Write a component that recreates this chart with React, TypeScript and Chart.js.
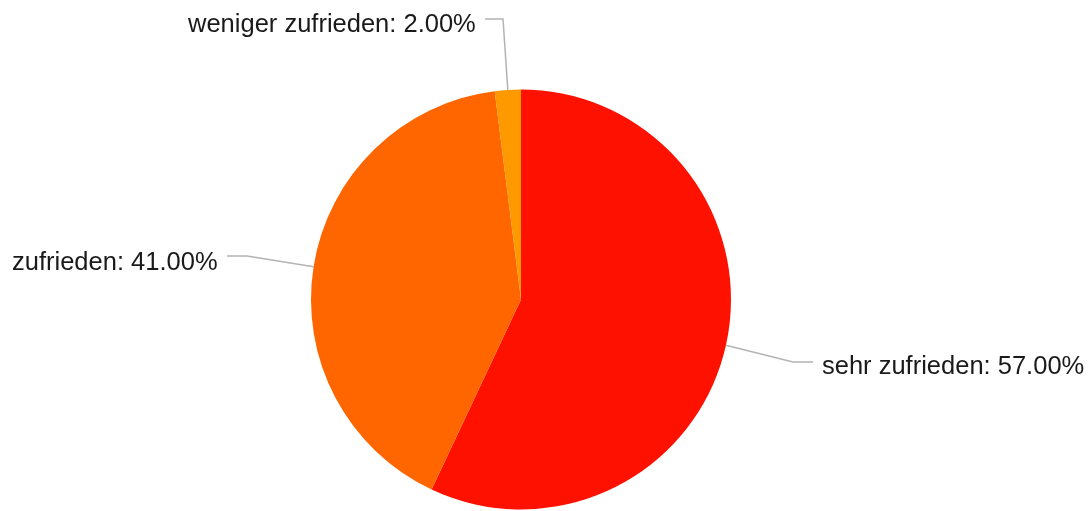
import React, { useEffect, useRef } from "react";
import { Chart, registerables } from "chart.js";

Chart.register(...registerables);

const categories: string[] = ["sehr zufrieden", "zufrieden", "weniger zufrieden"];
const values: number[] = [57, 41, 2];
const colors: string[] = ["#FF1100", "#FF6600", "#FF9900"];

// layout for the outside labels: text start x, baseline y, elbow point, line end point
const labelLayout = [
  { tx: 822, ty: 374, elbow: [793, 362], end: [813, 362] },
  { tx: 12, ty: 270, elbow: [247, 256], end: [227, 256] },
  { tx: 188, ty: 32, elbow: [503, 19], end: [485, 19] },
];

const labelPlugin = {
  id: "outLabels",
  afterDraw(chart: any) {
    const ctx = chart.ctx;
    const meta = chart.getDatasetMeta(0);
    ctx.save();
    meta.data.forEach((arc: any, i: number) => {
      const mid = (arc.startAngle + arc.endAngle) / 2;
      const ax = arc.x + Math.cos(mid) * arc.outerRadius;
      const ay = arc.y + Math.sin(mid) * arc.outerRadius;
      const L = labelLayout[i];
      ctx.strokeStyle = "#b3b3b3";
      ctx.lineWidth = 1.5;
      ctx.beginPath();
      ctx.moveTo(ax, ay);
      ctx.lineTo(L.elbow[0], L.elbow[1]);
      ctx.lineTo(L.end[0], L.end[1]);
      ctx.stroke();
      ctx.fillStyle = "#1a1a1a";
      ctx.font = '25.5px "Liberation Sans", Arial, sans-serif';
      ctx.textBaseline = "alphabetic";
      ctx.textAlign = "left";
      ctx.fillText(`${categories[i]}: ${values[i].toFixed(2)}%`, L.tx, L.ty);
    });
    ctx.restore();
  },
};

export default function App() {
  const ref = useRef<HTMLCanvasElement | null>(null);
  useEffect(() => {
    document.body.style.margin = "0";
    const chart = new Chart(ref.current as HTMLCanvasElement, {
      type: "pie",
      data: {
        labels: categories,
        datasets: [
          {
            data: values,
            backgroundColor: colors,
            borderWidth: 0,
          },
        ],
      },
      options: {
        responsive: false,
        animation: false,
        layout: { padding: { left: 311, right: 357, top: 89.5, bottom: 1.5 } },
        plugins: {
          legend: { display: false },
          tooltip: { enabled: false },
        },
      },
      plugins: [labelPlugin],
    });
    return () => chart.destroy();
  }, []);
  return (
    <div style={{ width: 1088, height: 511, background: "#ffffff" }}>
      <canvas ref={ref} width={1088} height={511} style={{ display: "block" }} />
    </div>
  );
}
